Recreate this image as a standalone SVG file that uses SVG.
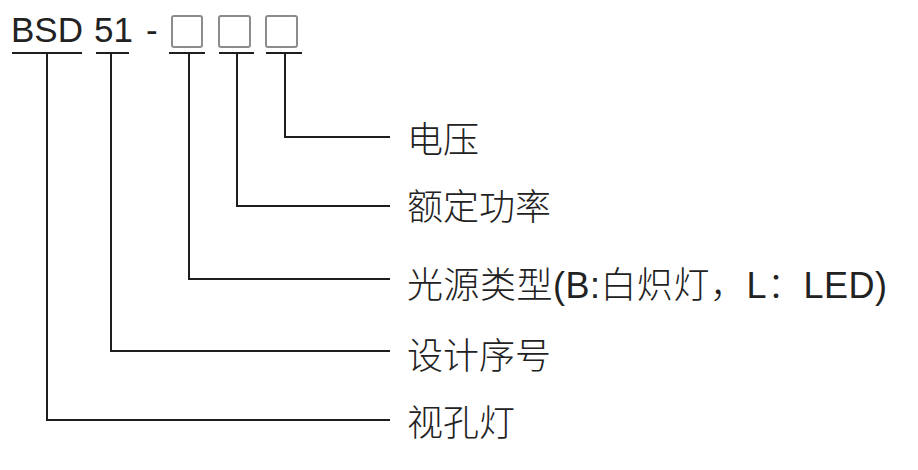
<svg xmlns="http://www.w3.org/2000/svg" width="918" height="470" viewBox="0 0 918 470">
<style>
.t{font-family:"Liberation Sans","Noto Sans CJK SC",sans-serif;fill:#222;}
.code{font-size:35px;}
.lbl{font-size:36px;font-weight:300;}
.ln{stroke:#1e1e1e;stroke-width:2;fill:none;stroke-linecap:square;}
.box{stroke:#8c8c8c;stroke-width:2;fill:none;}
</style>
<rect width="918" height="470" fill="#fff"/>
<g id="code">
<text class="t code" x="11" y="42">BSD</text>
<text class="t code" x="94" y="42">51</text>
<text class="t code" x="146" y="42">-</text>
<rect class="box" x="172" y="16" width="30" height="31" rx="2"/>
<rect class="box" x="219" y="16" width="31" height="31" rx="2"/>
<rect class="box" x="266" y="16" width="31" height="31" rx="2"/>
<line class="ln" x1="13" y1="53" x2="81" y2="53"/>
<line class="ln" x1="97" y1="53" x2="128" y2="53"/>
<line class="ln" x1="170" y1="53" x2="204" y2="53"/>
<line class="ln" x1="220" y1="53" x2="253" y2="53"/>
<line class="ln" x1="267" y1="53" x2="301" y2="53"/>
</g>
<g id="connectors">
<polyline class="ln" points="285,53 285,137 389,137"/>
<polyline class="ln" points="237,53 237,206 389,206"/>
<polyline class="ln" points="189,53 189,279 389,279"/>
<polyline class="ln" points="111,53 111,351 389,351"/>
<polyline class="ln" points="47,53 47,420 389,420"/>
</g>
<g id="voltage"><text class="t lbl" x="407" y="153">电压</text></g>
<g id="power"><text class="t lbl" x="407" y="220">额定功率</text></g>
<g id="lightsource"><text class="t lbl" x="407" y="298" textLength="480" lengthAdjust="spacing">光源类型(B:白炽灯，L：LED)</text></g>
<g id="design"><text class="t lbl" x="407" y="369">设计序号</text></g>
<g id="lamp"><text class="t lbl" x="407" y="436">视孔灯</text></g>
</svg>
